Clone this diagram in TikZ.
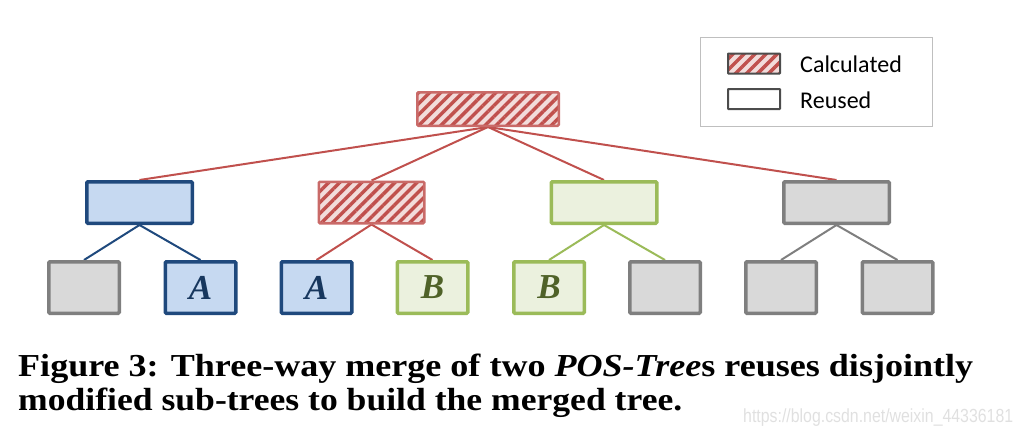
\documentclass[tikz,border=0pt]{standalone}
\usepackage{fontspec}
\setmainfont{Liberation Serif}
\newfontfamily\calib{Carlito}
\newfontfamily\wmfont{Liberation Sans}
\usetikzlibrary{patterns.meta,backgrounds}
\definecolor{cred}{HTML}{C0504D}
\definecolor{cpink}{HTML}{F2DCDB}
\definecolor{cblue}{HTML}{1F497D}
\definecolor{cbluef}{HTML}{C6D9F1}
\definecolor{cgreen}{HTML}{9BBB59}
\definecolor{cgreenf}{HTML}{EBF1DE}
\definecolor{cgray}{HTML}{7F7F7F}
\definecolor{cgrayf}{HTML}{D9D9D9}
\definecolor{ctextA}{HTML}{17375E}
\definecolor{ctextB}{HTML}{4F6228}
\tikzset{
  box/.style={rectangle, inner sep=0pt, rounded corners=1.2pt, line width=3.5pt},
  midbox/.style={box, minimum width=105.5pt, minimum height=41.5pt},
  leafbox/.style={box, minimum width=70.5pt, minimum height=51.5pt},
  bluebox/.style={draw=cblue, fill=cbluef},
  greenbox/.style={draw=cgreen, fill=cgreenf},
  graybox/.style={draw=cgray, fill=cgrayf},
  hatchbox/.style={draw=cred!85, line width=2.5pt, preaction={fill=cpink},
    pattern={Lines[angle=45,distance=7.8pt,line width=3.4pt]}, pattern color=cred},
  letterA/.style={font=\fontsize{35}{35}\selectfont\bfseries\itshape, text=ctextA},
  letterB/.style={font=\fontsize{35}{35}\selectfont\bfseries\itshape, text=ctextB},
  edge/.style={line width=2pt},
  legtext/.style={font=\calib\fontsize{24}{24}\selectfont, anchor=base west, inner sep=0pt},
}
\begin{document}
\begin{tikzpicture}[x=1pt,y=-1pt]
\useasboundingbox (0,0) rectangle (1022,434);
% legend
\node[draw=black!25, line width=1.5pt, minimum width=232pt, minimum height=89pt, inner sep=0pt] (legend) at (816.5,82) {};
\node[box, hatchbox, draw=black!70, line width=2pt, minimum width=52pt, minimum height=20pt, rounded corners=0.5pt] (legcalc) at (754,63.5) {};
\node[box, draw=black!70, fill=white, line width=2pt, minimum width=52pt, minimum height=20pt, rounded corners=0.5pt] (legreuse) at (754,99) {};
\node[legtext] (tcalc) at (800,72) {Calculated};
\node[legtext] (treuse) at (800,108) {Reused};
% root
\node[box, hatchbox, minimum width=141.5pt, minimum height=33.5pt] (root) at (488,109) {};
% level 2
\node[midbox, bluebox] (m1) at (139.5,202.5) {};
\node[midbox, hatchbox] (m2) at (371.5,202.5) {};
\node[midbox, greenbox] (m3) at (604,202.5) {};
\node[midbox, graybox] (m4) at (836.5,202.5) {};
% level 3
\node[leafbox, graybox] (l1) at (84,287.5) {};
\node[leafbox, bluebox, letterA] (l2) at (200.5,287.5) {A};
\node[leafbox, bluebox, letterA] (l3) at (316.5,287.5) {A};
\node[leafbox, greenbox, letterB] (l4) at (432.5,287.5) {B};
\node[leafbox, greenbox, letterB] (l5) at (549,287.5) {B};
\node[leafbox, graybox] (l6) at (665,287.5) {};
\node[leafbox, graybox] (l7) at (781,287.5) {};
\node[leafbox, graybox] (l8) at (897.5,287.5) {};
\begin{scope}[on background layer]
\draw[edge, cred] (root.south) -- (m1.north);
\draw[edge, cred] (root.south) -- (m2.north);
\draw[edge, cred] (root.south) -- (m3.north);
\draw[edge, cred] (root.south) -- (m4.north);
\draw[edge, cblue] (m1.south) -- (l1.north);
\draw[edge, cblue] (m1.south) -- (l2.north);
\draw[edge, cred] (m2.south) -- (l3.north);
\draw[edge, cred] (m2.south) -- (l4.north);
\draw[edge, cgreen] (m3.south) -- (l5.north);
\draw[edge, cgreen] (m3.south) -- (l6.north);
\draw[edge, cgray] (m4.south) -- (l7.north);
\draw[edge, cgray] (m4.south) -- (l8.north);
\end{scope}
% caption
\node[anchor=base west, inner sep=0pt] (cap1) at (18,376) {\resizebox{955pt}{\height}{\fontsize{32}{32}\selectfont\bfseries Figure 3: Three-way merge of two \textit{POS-Tree}s reuses disjointly}};
\node[anchor=base west, inner sep=0pt] (cap2) at (18,410) {\resizebox{664pt}{\height}{\fontsize{32}{32}\selectfont\bfseries modified sub-trees to build the merged tree.}};
\node[anchor=base west, inner sep=0pt, text=black!12] (wm) at (743,422) {\resizebox{270pt}{\height}{\wmfont\fontsize{19}{19}\selectfont https://blog.csdn.net/weixin\_44336181}};
\end{tikzpicture}
\end{document}
